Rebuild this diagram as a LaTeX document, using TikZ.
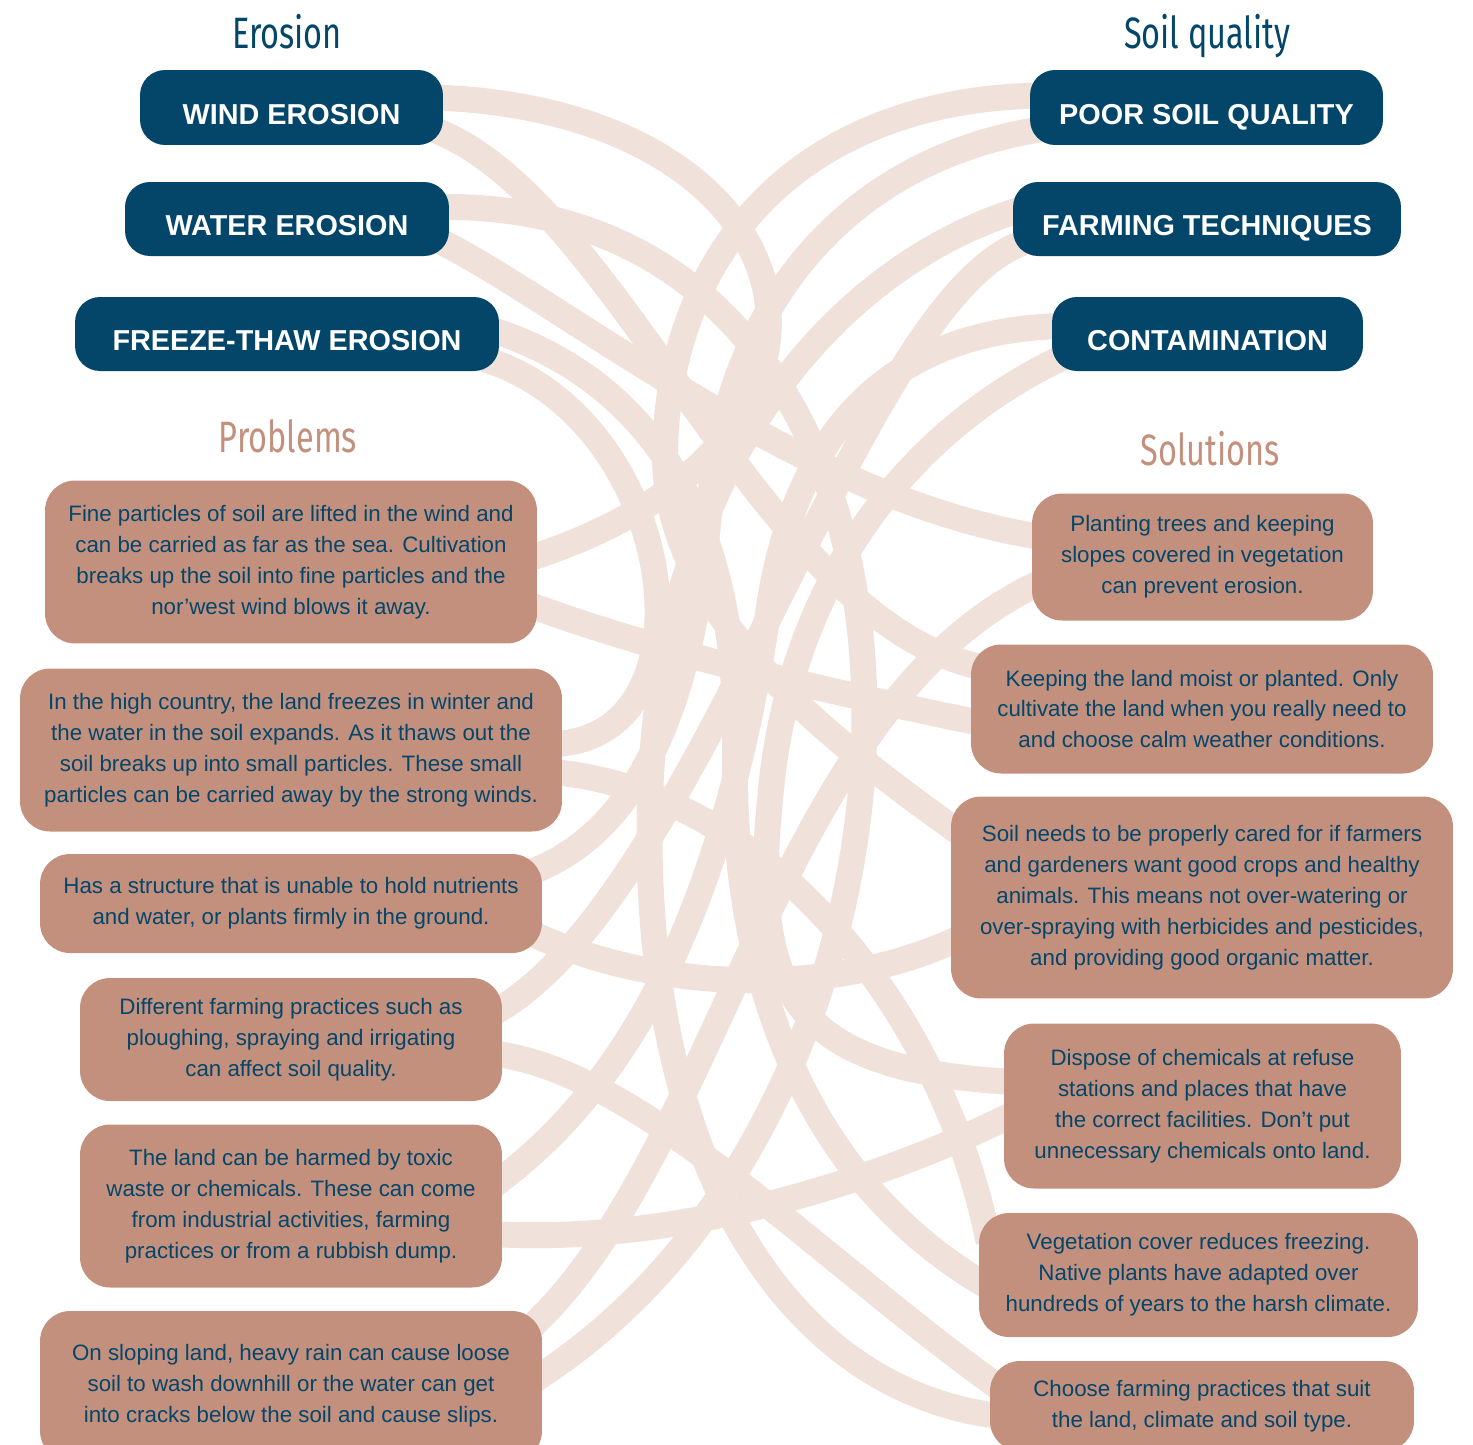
\documentclass[tikz,border=0pt]{standalone}
\usepackage{fontspec}
\setmainfont{Liberation Sans}
\newfontfamily\handfont[FakeStretch=0.74]{Fira Sans}
\newfontfamily\capsfont{Liberation Sans}
\usepackage{tikz}
\usetikzlibrary{calc,backgrounds}
\definecolor{inkblue}{HTML}{03466A}
\definecolor{clay}{HTML}{C4907E}
\definecolor{sand}{HTML}{F0E2DA}

\begin{document}
\begin{tikzpicture}[x=0.02cm,y=-0.02cm,
	topicbox/.style={fill=inkblue,rounded corners=0.5cm,text=white,inner sep=0pt,
		font=\capsfont\bfseries\fontsize{16.4}{20}\selectfont,text height=19pt,text depth=0pt},
	infobox/.style={fill=clay,rounded corners=0.6cm,text=inkblue,align=center,inner sep=0pt,
		font=\fontsize{12.7}{17.6}\selectfont},
	headblue/.style={text=inkblue,font=\handfont\fontsize{25}{28}\selectfont},
	headclay/.style={text=clay,font=\handfont\fontsize{25}{28}\selectfont},
	band/.style={draw=sand,line width=0.52cm}]
	% page frame
	\path[use as bounding box] (0,0) rectangle (1473,1444);
	\clip (0,0) rectangle (1473,1444);
	% headings
	\node[headblue] (hero) at (287,32) {Erosion};
	\node[headblue] (hsoil) at (1207,36) {Soil quality};
	\node[headclay] (hprob) at (288,436) {Problems};
	\node[headclay] (hsol) at (1210,449) {Solutions};
	% erosion boxes
	\node[topicbox,minimum width=6.06cm,minimum height=1.5cm] (wind) at (291.5,107.5) {WIND EROSION};
	\node[topicbox,minimum width=6.48cm,minimum height=1.48cm] (water) at (287,219) {WATER EROSION};
	\node[topicbox,minimum width=8.48cm,minimum height=1.48cm] (freeze) at (287,334) {FREEZE-THAW EROSION};
	% soil quality boxes
	\node[topicbox,minimum width=7.06cm,minimum height=1.5cm] (poor) at (1206.5,107.5) {POOR SOIL QUALITY};
	\node[topicbox,minimum width=7.76cm,minimum height=1.48cm] (farming) at (1207,219) {FARMING TECHNIQUES};
	\node[topicbox,minimum width=6.22cm,minimum height=1.48cm] (contam) at (1207.5,334) {CONTAMINATION};
	% problems
	\node[infobox,minimum width=9.84cm,minimum height=3.26cm] (p1) at (291,562)
		{Fine particles of soil are lifted in the wind and\\can be carried as far as the sea. Cultivation\\breaks up the soil into fine particles and the\\nor’west wind blows it away.};
	\node[infobox,minimum width=10.84cm,minimum height=3.26cm] (p2) at (291,750)
		{In the high country, the land freezes in winter and\\the water in the soil expands. As it thaws out the\\soil breaks up into small particles. These small\\particles can be carried away by the strong winds.};
	\node[infobox,minimum width=10.04cm,minimum height=1.98cm] (p3) at (291,903.5)
		{Has a structure that is unable to hold nutrients\\and water, or plants firmly in the ground.};
	\node[infobox,minimum width=8.44cm,minimum height=2.46cm] (p4) at (291,1039.5)
		{Different farming practices such as\\ploughing, spraying and irrigating\\can affect soil quality.};
	\node[infobox,minimum width=8.44cm,minimum height=3.26cm] (p5) at (291,1206)
		{The land can be harmed by toxic\\waste or chemicals. These can come\\from industrial activities, farming\\practices or from a rubbish dump.};
	\node[infobox,minimum width=10.04cm,minimum height=3.0cm] (p6) at (291,1386)
		{On sloping land, heavy rain can cause loose\\soil to wash downhill or the water can get\\into cracks below the soil and cause slips.};
	% solutions
	\node[infobox,minimum width=6.82cm,minimum height=2.54cm] (s1) at (1202.5,557)
		{Planting trees and keeping\\slopes covered in vegetation\\can prevent erosion.};
	\node[infobox,minimum width=9.24cm,minimum height=2.58cm] (s2) at (1202,709)
		{Keeping the land moist or planted. Only\\cultivate the land when you really need to\\and choose calm weather conditions.};
	\node[infobox,minimum width=10.04cm,minimum height=4.04cm] (s3) at (1202,897.5)
		{Soil needs to be properly cared for if farmers\\and gardeners want good crops and healthy\\animals. This means not over-watering or\\over-spraying with herbicides and pesticides,\\and providing good organic matter.};
	\node[infobox,minimum width=7.94cm,minimum height=3.3cm] (s4) at (1202.5,1106)
		{Dispose of chemicals at refuse\\stations and places that have\\the correct facilities. Don’t put\\unnecessary chemicals onto land.};
	\node[infobox,minimum width=8.78cm,minimum height=2.48cm] (s5) at (1198.5,1275)
		{Vegetation cover reduces freezing.\\Native plants have adapted over\\hundreds of years to the harsh climate.};
	\node[infobox,minimum width=8.48cm,minimum height=1.8cm] (s6) at (1202,1406)
		{Choose farming practices that suit\\the land, climate and soil type.};
	% bands behind the boxes
	\begin{scope}[on background layer]
		% from erosion
		\draw[band] ($(wind.east)+(-10,-10)$) .. controls (820,110) and (900,440) .. ($(p1.east)+(-10,-3)$);
		\draw[band] ($(wind.east)+(-10,22)$) .. controls (620,200) and (760,620) .. ($(s2.west)+(10,-42)$);
		\draw[band] ($(water.east)+(-10,-12)$) .. controls (1000,200) and (980,1100) .. ($(p6.east)+(-10,-5)$);
		\draw[band] ($(water.east)+(-10,22)$) .. controls (560,300) and (800,500) .. ($(s1.west)+(10,-20)$);
		\draw[band] ($(freeze.east)+(-10,-5)$) .. controls (650,380) and (740,520) .. (735,750)
			.. controls (730,1000) and (820,1190) .. ($(s5.west)+(10,12)$);
		\draw[band] ($(freeze.east)+(-15,25)$) .. controls (680,420) and (720,740) .. ($(p2.east)+(-10,-6)$);
		% from soil quality
		\draw[band] ($(poor.west)+(10,-12)$) .. controls (800,100) and (670,250) .. (665,450)
			.. controls (662,600) and (800,720) .. ($(s3.west)+(10,-64)$);
		\draw[band] ($(poor.west)+(10,22)$) .. controls (850,160) and (730,300) .. (710,500)
			.. controls (695,700) and (640,830) .. ($(p3.east)+(-10,-32)$);
		\draw[band] ($(farming.west)+(10,-10)$) .. controls (850,260) and (660,450) .. (650,800)
			.. controls (640,1150) and (780,1390) .. ($(s6.west)+(10,10)$);
		\draw[band] ($(farming.west)+(10,24)$) .. controls (860,300) and (700,900) .. ($(p4.east)+(-10,-26)$);
		\draw[band] ($(contam.west)+(10,-8)$) .. controls (900,330) and (800,420) .. (770,600)
			.. controls (740,800) and (680,1050) .. ($(p5.east)+(-10,-20)$);
		\draw[band] ($(contam.west)+(10,24)$) .. controls (930,420) and (790,560) .. (770,800)
			.. controls (750,1000) and (800,1070) .. ($(s4.west)+(10,-24)$);
		% problem to solution
		\draw[band] ($(p1.east)+(-10,42)$) .. controls (650,650) and (820,690) .. ($(s2.west)+(10,14)$);
		\draw[band] ($(p2.east)+(-10,22)$) .. controls (760,790) and (940,1000) .. ($(s5.west)+(10,-33)$);
		\draw[band] ($(p3.east)+(-10,30)$) .. controls (650,990) and (830,1000) .. ($(s3.west)+(10,40)$);
		\draw[band] ($(p4.east)+(-10,14)$) .. controls (640,1070) and (820,1260) .. ($(s6.west)+(10,-18)$);
		\draw[band] ($(p5.east)+(-10,28)$) .. controls (680,1245) and (880,1180) .. ($(s4.west)+(10,8)$);
		\draw[band] ($(p6.east)+(-10,-60)$) .. controls (720,1150) and (780,700) .. ($(s1.west)+(10,25)$);
	\end{scope}
\end{tikzpicture}
\end{document}
